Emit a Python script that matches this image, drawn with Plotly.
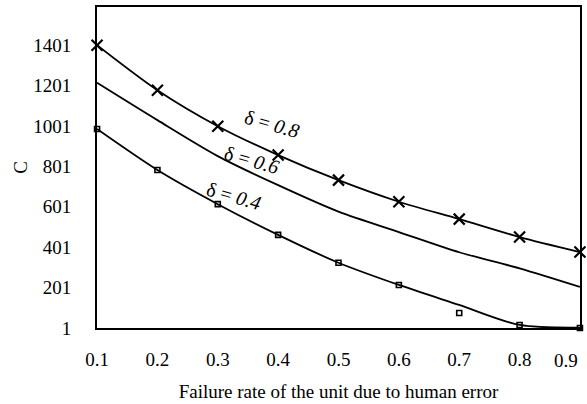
import plotly.graph_objects as go

x = [0.1, 0.2, 0.3, 0.4, 0.5, 0.6, 0.7, 0.8, 0.9]
c_08 = [1401, 1178, 1000, 857, 733, 626, 540, 451, 377]
c_06 = [1215, 1030, 852, 708, 577, 476, 376, 296, 204]
c_04_line = [986, 783, 614, 462, 324, 214, 115, 16, 3]
c_04_pts = [986, 783, 614, 462, 324, 214, 75, 16, 1]
yticks = [1, 201, 401, 601, 801, 1001, 1201, 1401]
xticks = [0.1, 0.2, 0.3, 0.4, 0.5, 0.6, 0.7, 0.8, 0.9]
labels = ["δ = <i>0.8</i>", "δ = <i>0.6</i>", "δ = <i>0.4</i>"]

FONT = "Liberation Serif"
fig = go.Figure()
line = dict(color="black", width=1.8, shape="spline", smoothing=0.8)
fig.add_trace(go.Scatter(x=x, y=c_08, mode="lines+markers", line=line,
                         marker=dict(symbol="x-thin", size=11, line=dict(color="black", width=2.2)),
                         cliponaxis=False))
fig.add_trace(go.Scatter(x=x, y=c_06, mode="lines", line=line, cliponaxis=False))
fig.add_trace(go.Scatter(x=x, y=c_04_line, mode="lines", line=line, cliponaxis=False))
fig.add_trace(go.Scatter(x=x, y=c_04_pts, mode="markers",
                         marker=dict(symbol="square-open", size=5, color="black", line=dict(color="black", width=1.6)),
                         cliponaxis=False))

for (tx, ty, t) in [(0.39, 1010, labels[0]), (0.357, 835, labels[1]), (0.327, 655, labels[2])]:
    fig.add_annotation(x=tx, y=ty, text=t, showarrow=False, textangle=16,
                       font=dict(family=FONT, size=20, color="black"))

# last tick label is drawn flush with the right edge (as in the reference)
xtext = [f"{v:.1f}" for v in xticks]
last_label = xtext[-1]
xtext[-1] = ""
fig.add_annotation(x=1, xref="paper", xanchor="right", y=0, yref="paper", yanchor="middle",
                   yshift=-32, text=last_label, showarrow=False,
                   font=dict(family=FONT, size=19, color="black"))

fig.update_layout(
    width=587, height=404, showlegend=False,
    margin=dict(l=97, r=7, t=7, b=76),
    plot_bgcolor="white", paper_bgcolor="white",
    font=dict(family=FONT, size=19, color="black"),
)
fig.update_xaxes(range=[0.0999, 0.9001], tickvals=xticks, ticktext=xtext,
                 showgrid=False, zeroline=False, showline=True, linecolor="black", linewidth=2,
                 mirror=True, ticks="", ticklabelstandoff=13, ticklabeloverflow="allow",
                 automargin=False,
                 tickfont=dict(family=FONT, size=19, color="black"),
                 title=dict(text="Failure rate of the unit due to human error", standoff=16,
                            font=dict(family=FONT, size=19, color="black")))
fig.update_yaxes(range=[1, 1590], tickvals=yticks, ticktext=[str(v) for v in yticks],
                 showgrid=False, zeroline=False, showline=True, linecolor="black", linewidth=2,
                 mirror=True, ticks="", ticklabelstandoff=20, ticklabeloverflow="allow",
                 automargin=False,
                 tickfont=dict(family=FONT, size=19, color="black"),
                 title=dict(text="C", standoff=1, font=dict(family=FONT, size=19, color="black")))

fig.write_html("out.html")
